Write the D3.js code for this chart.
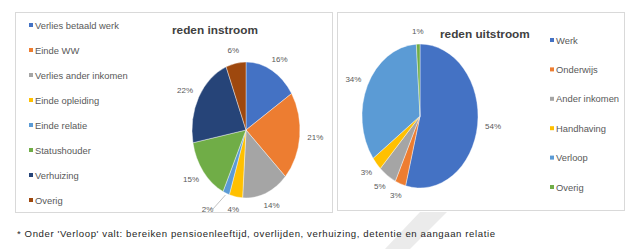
<!DOCTYPE html>
<html><head><meta charset="utf-8">
<script src="https://cdn.jsdelivr.net/npm/d3@7"></script>
<style>html,body{margin:0;padding:0;background:#fff;}svg{display:block;font-family:"Liberation Sans",Arial,sans-serif;}</style>
</head><body>
<svg id="c" width="626" height="249"></svg>
<script>
// ---- data ----
const inCategories = ["Verlies betaald werk","Einde WW","Verlies ander inkomen","Einde opleiding","Einde relatie","Statushouder","Verhuizing","Overig"];
const inValues = [16,21,14,4,2,15,22,6];
const outCategories = ["Werk","Onderwijs","Ander inkomen","Handhaving","Verloop","Overig"];
const outValues = [54,3,5,3,34,1];
const inTitle = "reden instroom";
const outTitle = "reden uitstroom";
const footnote = "* Onder 'Verloop' valt:  bereiken pensioenleeftijd, overlijden, verhuizing, detentie en aangaan relatie";

const inColors = ["#4472C4","#ED7D31","#A5A5A5","#FFC000","#5B9BD5","#70AD47","#264478","#9E480E"];
const outColors = ["#4472C4","#ED7D31","#A5A5A5","#FFC000","#5B9BD5","#70AD47"];

const svg = d3.select("#c");

// faint watermark stroke
svg.append("polygon").attr("points","420,212 447,212 410,249 385,249").attr("fill","#ebebeb");

// panels
svg.append("rect").attr("x",15.5).attr("y",12.5).attr("width",317).attr("height",200)
  .attr("fill","none").attr("stroke","#d9d9d9");
svg.append("rect").attr("x",337.5).attr("y",12.5).attr("width",287).attr("height",198)
  .attr("fill","none").attr("stroke","#d9d9d9");

function drawPie(values, colors, cx, cy, rx, ry, leader){
  const pie = d3.pie().sort(null).value(d=>d);
  const arcs = pie(values);
  const arc = d3.arc().innerRadius(0).outerRadius(ry);
  const g = svg.append("g").attr("transform",`translate(${cx},${cy}) scale(${rx/ry},1)`);
  g.selectAll("path").data(arcs).join("path")
    .attr("d",arc).attr("fill",(d,i)=>colors[i])
    .attr("stroke","#fff").attr("stroke-width",0.4).attr("vector-effect","non-scaling-stroke");
  const lg = svg.append("g");
  arcs.forEach((d,i)=>{
    const a = (d.startAngle+d.endAngle)/2;
    const s = Math.sin(a), c = Math.cos(a);
    const ex = cx + s*rx, ey = cy - c*ry;
    const txt = d.data + "%";
    const w = txt.length*4.4, h = 8;
    const isLeader = leader && d.data <= leader;
    const hg = isLeader ? 46 : 9, vg = isLeader ? 14 : 9;
    const lx = ex + s*(hg + w/2), ly = ey - c*(vg + h/2);
    if (isLeader) {
      lg.append("line").attr("x1",ex + 2*s).attr("y1",ey - 2*c)
        .attr("x2",lx + Math.sign(-s)*(w/2+1)).attr("y2",ly - 1)
        .attr("stroke","#a6a6a6").attr("stroke-width",0.7);
    }
    lg.append("text").attr("x",lx).attr("y",ly).attr("text-anchor","middle")
      .attr("dominant-baseline","central").attr("font-size",8).attr("fill","#595959").text(txt);
  });
}

function legend(cats, colors, x, y0, step){
  const g = svg.append("g");
  cats.forEach((t,i)=>{
    const y = y0 + i*step;
    g.append("rect").attr("x",x-2).attr("y",y-2).attr("width",4).attr("height",4).attr("fill",colors[i]);
    g.append("text").attr("x",x+4).attr("y",y).attr("dominant-baseline","central")
      .attr("font-size",9.4).attr("fill","#595959").text(t);
  });
}

// left chart
svg.append("text").attr("x",172).attr("y",30).attr("dominant-baseline","central")
  .attr("font-size",11.8).attr("font-weight","bold").attr("fill","#404040").text(inTitle);
legend(inCategories, inColors, 31, 25, 25);
drawPie(inValues, inColors, 246, 130, 54, 68, 2);

// right chart
svg.append("text").attr("x",440).attr("y",34).attr("dominant-baseline","central")
  .attr("font-size",11.8).attr("font-weight","bold").attr("fill","#404040").text(outTitle);
legend(outCategories, outColors, 552, 40, 29.4);
drawPie(outValues, outColors, 420, 116, 58, 72, 0);

// footnote
svg.append("text").attr("x",17).attr("y",233).attr("dominant-baseline","central")
  .attr("font-size",9.6).attr("fill","#262626")
  .attr("textLength",478).attr("lengthAdjust","spacing").text(footnote);
</script>
</body></html>
